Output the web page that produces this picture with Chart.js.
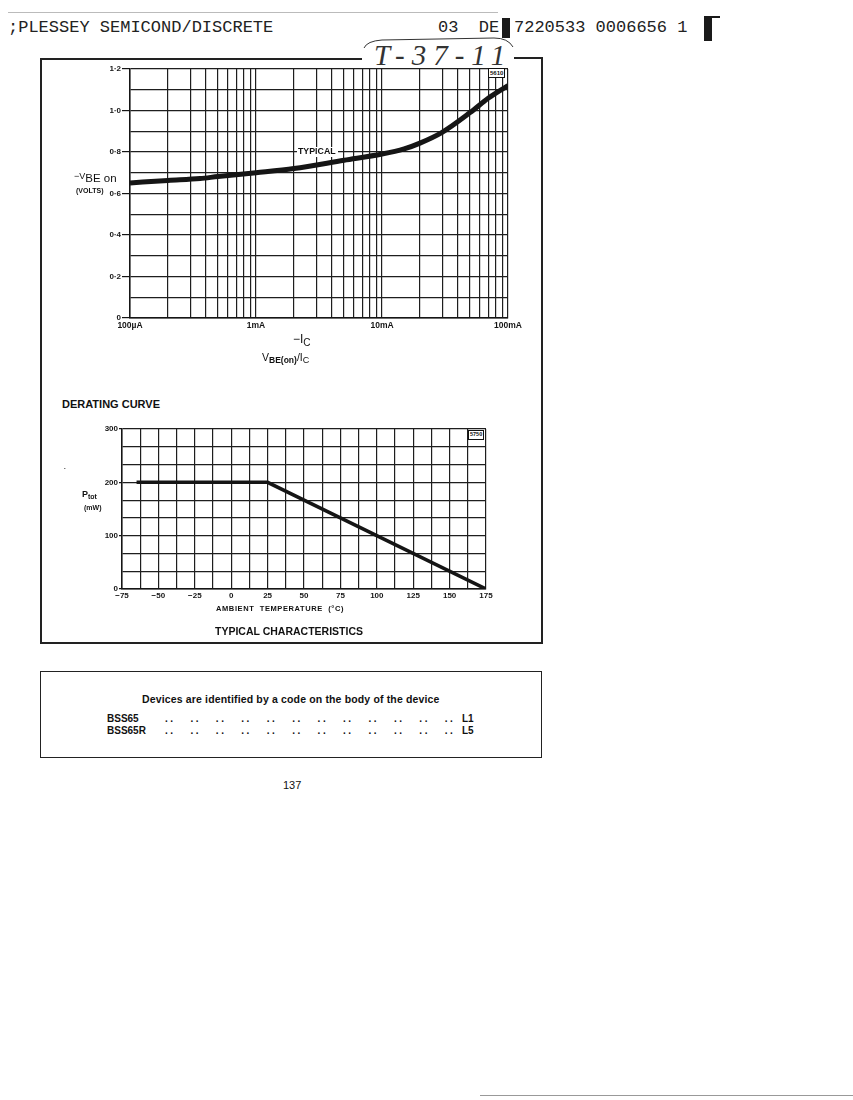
<!DOCTYPE html>
<html><head><meta charset="utf-8">
<script src="https://cdn.jsdelivr.net/npm/chart.js@4.4.0/dist/chart.umd.min.js"></script>
<style>
body{margin:0;background:#fff;}
#page{position:relative;width:853px;height:1100px;overflow:hidden;font-family:"Liberation Sans",Arial,sans-serif;color:#111;}
.a{position:absolute;white-space:nowrap;line-height:1;color:#111;}
.mono{font-family:"Liberation Mono","DejaVu Sans Mono",monospace;font-size:17px;color:#222;}
.b{font-weight:bold;}
canvas{position:absolute;}
.hl{position:absolute;background:#1a1a1a;}
</style></head><body><div id="page">

<div class="hl" style="left:8px;top:12px;width:490px;height:1px;background:#bbb"></div>
<div class="a mono" style="left:8px;top:19px">;PLESSEY SEMICOND/DISCRETE</div>
<div class="a mono" style="left:438px;top:19px">03&nbsp;&nbsp;DE</div>
<div class="hl" style="left:502px;top:18px;width:8px;height:20px"></div>
<div class="a mono" style="left:514px;top:19px">7220533 0006656 1</div>
<div class="hl" style="left:704px;top:16px;width:8px;height:25px"></div>
<div class="hl" style="left:704px;top:16px;width:16px;height:2px"></div>

<svg style="position:absolute;left:0;top:0" width="853" height="80">
<path d="M364,48 Q367,41 382,40 L494,38 Q508,38 513,47" fill="none" stroke="#333" stroke-width="1"/>
</svg>
<div class="a" style="left:374px;top:41px;font-family:'Liberation Serif',serif;font-style:italic;font-size:29px;letter-spacing:7px;color:#333">T-37-11</div>

<!-- box 1 -->
<div style="position:absolute;left:40px;top:58px;width:322px;height:1.5px;background:#222"></div>
<div style="position:absolute;left:514px;top:57px;width:29px;height:1.5px;background:#222"></div>
<div style="position:absolute;left:40px;top:58px;width:1.5px;height:586px;background:#222"></div>
<div style="position:absolute;left:541px;top:57px;width:1.5px;height:587px;background:#222"></div>
<div style="position:absolute;left:40px;top:642px;width:503px;height:1.5px;background:#222"></div>

<canvas id="c1" width="502" height="280" style="left:40px;top:60px;width:502px;height:280px"></canvas>
<canvas id="c2" width="502" height="200" style="left:40px;top:420px;width:502px;height:200px"></canvas>

<div class="a b" style="left:297px;top:147px;font-size:8.8px;background:#fff;padding:0 2px 1px 1px">TYPICAL</div>
<div class="a b" style="left:488px;top:68px;font-size:6px;border:1px solid #111;background:#fff;padding:1px 1px">5610</div>

<div class="a" style="left:74px;top:170px;font-size:10px"><span style="font-size:9px">−V</span><span style="position:relative;top:3px;font-size:11.5px">BE on</span></div>
<div class="a b" style="left:76px;top:187px;font-size:7px">(VOLTS)</div>

<div class="a" style="left:293px;top:333px;font-size:12px">−I<span style="font-size:10px;position:relative;top:3px">C</span></div>
<div class="a" style="left:262px;top:352px;font-size:10.5px">V<span style="font-size:8.5px;position:relative;top:2px;font-weight:bold">BE(on)</span>/I<span style="font-size:9px;position:relative;top:2px">C</span></div>

<div class="a b" style="left:62px;top:399px;font-size:11px">DERATING CURVE</div>

<div class="a b" style="left:468px;top:430px;font-size:5.5px;border:1px solid #111;background:#fff;padding:1px 1px">5750</div>
<div class="a b" style="left:82px;top:490px;font-size:9px">P<span style="font-size:7px;position:relative;top:2px">tot</span></div>
<div class="a b" style="left:84px;top:504px;font-size:7px">(mW)</div>
<div class="a b" style="left:64px;top:465px;font-size:6px">·</div>

<div class="a b" style="left:216px;top:605px;font-size:7.5px;letter-spacing:0.6px">AMBIENT&nbsp;&nbsp;TEMPERATURE&nbsp;&nbsp;(°C)</div>
<div class="a b" style="left:215px;top:626px;font-size:10.5px">TYPICAL CHARACTERISTICS</div>

<!-- box 2 -->
<div style="position:absolute;left:40px;top:671px;width:500px;height:85px;border:1.5px solid #222"></div>
<div class="a b" style="left:142px;top:694px;font-size:10.5px;letter-spacing:0.15px">Devices are identified by a code on the body of the device</div>
<div class="a b" style="left:107px;top:714px;font-size:10px">BSS65</div>
<div class="a b" style="left:107px;top:726px;font-size:10px">BSS65R</div>
<div class="a b" style="left:165px;top:714px;font-size:10px;letter-spacing:2.5px;word-spacing:9.6px">.. .. .. .. .. .. .. .. .. .. .. ..</div>
<div class="a b" style="left:165px;top:726px;font-size:10px;letter-spacing:2.5px;word-spacing:9.6px">.. .. .. .. .. .. .. .. .. .. .. ..</div>
<div class="a b" style="left:462px;top:714px;font-size:10px">L1</div>
<div class="a b" style="left:462px;top:726px;font-size:10px">L5</div>

<div class="a" style="left:283px;top:780px;font-size:11px;color:#111">137</div>
<div class="hl" style="left:480px;top:1095px;width:373px;height:1px;background:#999"></div>

</div>
<script>
// ---- V_BE(on) vs I_C (typical) ----
const icCurrent_mA = [0.1, 0.2, 0.36, 0.5, 1, 2, 5, 10, 15, 20, 30, 50, 70, 100];
const vbeOn_V      = [0.651, 0.663, 0.672, 0.682, 0.700, 0.720, 0.760, 0.790, 0.815, 0.843, 0.895, 0.990, 1.060, 1.120];
const icTickValues = [0.1, 1, 10, 100];
const icTickLabels = ['100µA', '1mA', '10mA', '100mA'];
const vbeTickLabels = ['0', '0·2', '0·4', '0·6', '0·8', '1·0', '1·2'];

// ---- Derating curve ----
const ambientTemp_C = [-65, 25, 175];
const ptot_mW       = [200, 200, 0];
const tempTickLabels = ['−75', '−50', '−25', '0', '25', '50', '75', '100', '125', '150', '175'];
const ptotTickLabels = ['0', '100', '200', '300'];

// grid positions
const icGrid = [];
[0.1, 1, 10].forEach(d => { for (let m = 1; m <= 9; m++) icGrid.push(d * m); });
icGrid.push(100);
const vGrid = [];
for (let i = 0; i <= 12; i++) vGrid.push(i / 10);
const tGrid = [];
for (let i = 0; i <= 20; i++) tGrid.push(-75 + i * 12.5);
const pGrid = [];
for (let i = 0; i <= 9; i++) pGrid.push(i * 100 / 3);

const ink = '#151515';
const noPlug = { legend: { display: false }, tooltip: { enabled: false } };

new Chart(document.getElementById('c1'), {
  type: 'line',
  data: { datasets: [{ data: icCurrent_mA.map((x, i) => ({ x, y: vbeOn_V[i] })),
    borderColor: ink, borderWidth: 5, pointRadius: 0, cubicInterpolationMode: 'monotone', fill: false }] },
  options: {
    responsive: false, animation: false, plugins: noPlug,
    layout: { padding: { left: 0, top: 9, right: 34, bottom: 0 } },
    scales: {
      x: { type: 'logarithmic', min: 0.1, max: 100,
        afterBuildTicks: s => { s.ticks = icGrid.map(v => ({ value: v })); },
        afterFit: s => { s.height = 22; s.paddingLeft = 0; s.paddingRight = 0; },
        ticks: { autoSkip: false, maxRotation: 0, padding: 3, color: ink,
          font: { family: 'Liberation Sans', size: 8.5, weight: 'bold' },
          callback: v => { const i = icTickValues.findIndex(t => Math.abs(t - v) / t < 1e-6); return i >= 0 ? icTickLabels[i] : ''; } },
        grid: { color: '#1e1e1e', lineWidth: 1.2, drawTicks: false },
        border: { color: ink, width: 1.5 } },
      y: { min: 0, max: 1.2,
        afterBuildTicks: s => { s.ticks = vGrid.map(v => ({ value: v })); },
        afterFit: s => { s.width = 90; s.paddingTop = 0; s.paddingBottom = 0; },
        ticks: { autoSkip: false, padding: 1, color: ink,
          font: { family: 'Liberation Sans', size: 8, weight: 'bold' },
          callback: (v, i) => (i % 2 === 0 ? vbeTickLabels[i / 2] : '') },
        grid: { color: '#1e1e1e', lineWidth: 1.2, tickLength: 8,
          tickColor: c => (c.index % 2 === 0 ? ink : 'rgba(0,0,0,0)') },
        border: { color: ink, width: 1.5 } }
    }
  }
});

new Chart(document.getElementById('c2'), {
  type: 'line',
  data: { datasets: [{ data: ambientTemp_C.map((x, i) => ({ x, y: ptot_mW[i] })),
    borderColor: ink, borderWidth: 3.5, pointRadius: 0, tension: 0, fill: false }] },
  options: {
    responsive: false, animation: false, plugins: noPlug,
    layout: { padding: { left: 0, top: 9, right: 56, bottom: 0 } },
    scales: {
      x: { type: 'linear', min: -75, max: 175,
        afterBuildTicks: s => { s.ticks = tGrid.map(v => ({ value: v })); },
        afterFit: s => { s.height = 31; s.paddingLeft = 0; s.paddingRight = 0; },
        ticks: { autoSkip: false, maxRotation: 0, padding: 2, color: ink,
          font: { family: 'Liberation Sans', size: 8, weight: 'bold' },
          callback: (v, i) => (i % 2 === 0 ? tempTickLabels[i / 2] : '') },
        grid: { color: '#1e1e1e', lineWidth: 1.2, drawTicks: false },
        border: { color: ink, width: 1.5 } },
      y: { min: 0, max: 300,
        afterBuildTicks: s => { s.ticks = pGrid.map(v => ({ value: v })); },
        afterFit: s => { s.width = 82; s.paddingTop = 0; s.paddingBottom = 0; },
        ticks: { autoSkip: false, padding: 1, color: ink,
          font: { family: 'Liberation Sans', size: 8, weight: 'bold' },
          callback: (v, i) => (i % 3 === 0 ? ptotTickLabels[i / 3] : '') },
        grid: { color: '#1e1e1e', lineWidth: 1.2, tickLength: 3,
          tickColor: c => (c.index % 3 === 0 ? ink : 'rgba(0,0,0,0)') },
        border: { color: ink, width: 1.5 } }
    }
  }
});
</script>
</body></html>
